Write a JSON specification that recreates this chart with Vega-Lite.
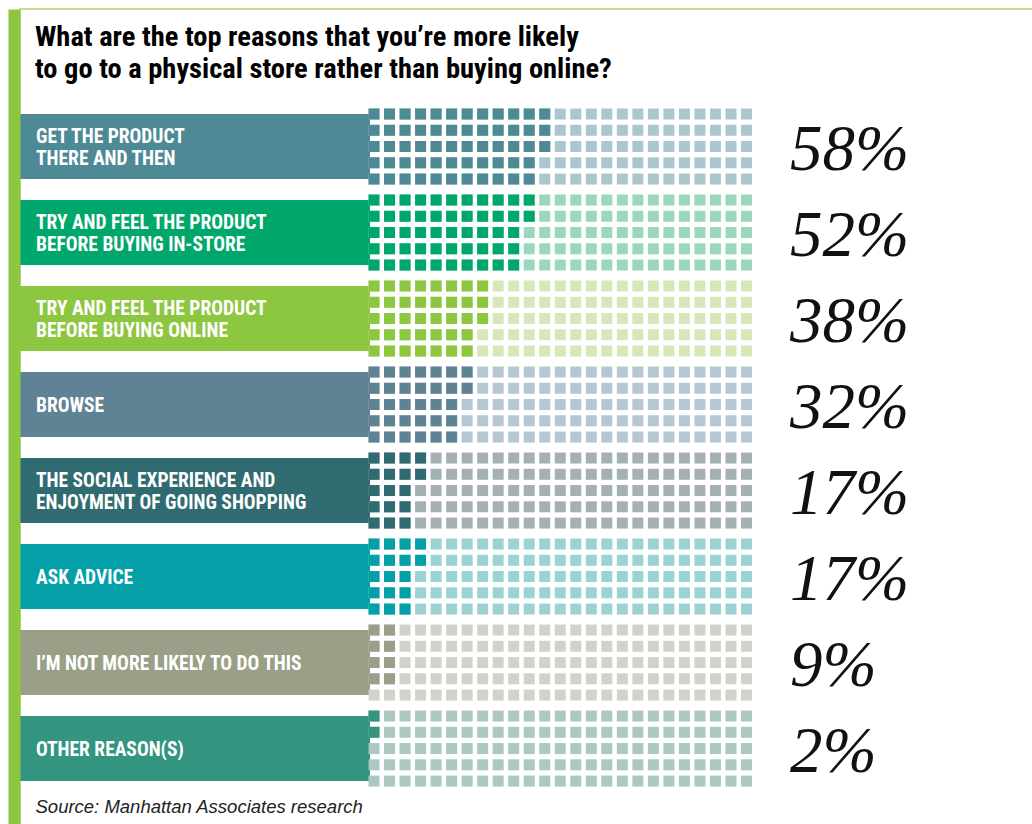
{
  "$schema": "https://vega.github.io/schema/vega-lite/v6.json",
  "width": 1013,
  "height": 816,
  "autosize": {"type": "none"},
  "padding": {"left": 20, "top": 9, "right": 0, "bottom": 0},
  "background": "white",
  "config": {
    "view": {"stroke": "#c3df97", "strokeWidth": 2},
    "text": {"lineBreak": "\n"}
  },
  "title": {
    "text": ["What are the top reasons that you’re more likely", "to go to a physical store rather than buying online?"],
    "anchor": "start",
    "frame": "group",
    "dx": 15,
    "offset": -74,
    "zindex": 2,
    "font": "'Liberation Sans Narrow', 'Roboto Condensed', 'DejaVu Sans Condensed', Roboto, sans-serif",
    "fontSize": 28.5,
    "fontWeight": "bold",
    "lineHeight": 32,
    "color": "#000000"
  },
  "datasets": {
    "cats": [
      {"id": 1, "label": "GET THE PRODUCT\nTHERE AND THEN", "pct": 0.58, "gy": [1,2,3,4,5], "n": [12,12,12,11,11], "c": [1,2,3,4,5,6,7,8,9,10,11,12,13,14,15,16,17,18,19,20,21,22,23,24,25]},
      {"id": 2, "label": "TRY AND FEEL THE PRODUCT\nBEFORE BUYING IN-STORE", "pct": 0.52, "gy": [1,2,3,4,5], "n": [11,11,10,10,10], "c": [1,2,3,4,5,6,7,8,9,10,11,12,13,14,15,16,17,18,19,20,21,22,23,24,25]},
      {"id": 3, "label": "TRY AND FEEL THE PRODUCT\nBEFORE BUYING ONLINE", "pct": 0.38, "gy": [1,2,3,4,5], "n": [8,8,8,7,7], "c": [1,2,3,4,5,6,7,8,9,10,11,12,13,14,15,16,17,18,19,20,21,22,23,24,25]},
      {"id": 4, "label": "BROWSE", "pct": 0.32, "gy": [1,2,3,4,5], "n": [7,7,6,6,6], "c": [1,2,3,4,5,6,7,8,9,10,11,12,13,14,15,16,17,18,19,20,21,22,23,24,25]},
      {"id": 5, "label": "THE SOCIAL EXPERIENCE AND\nENJOYMENT OF GOING SHOPPING", "pct": 0.17, "gy": [1,2,3,4,5], "n": [4,4,3,3,3], "c": [1,2,3,4,5,6,7,8,9,10,11,12,13,14,15,16,17,18,19,20,21,22,23,24,25]},
      {"id": 6, "label": "ASK ADVICE", "pct": 0.17, "gy": [1,2,3,4,5], "n": [4,4,3,3,3], "c": [1,2,3,4,5,6,7,8,9,10,11,12,13,14,15,16,17,18,19,20,21,22,23,24,25]},
      {"id": 7, "label": "I’M NOT MORE LIKELY TO DO THIS", "pct": 0.09, "gy": [1,2,3,4,5], "n": [2,2,2,2,0], "c": [1,2,3,4,5,6,7,8,9,10,11,12,13,14,15,16,17,18,19,20,21,22,23,24,25]},
      {"id": 8, "label": "OTHER REASON(S)", "pct": 0.02, "gy": [1,2,3,4,5], "n": [1,1,0,0,0], "c": [1,2,3,4,5,6,7,8,9,10,11,12,13,14,15,16,17,18,19,20,21,22,23,24,25]}
    ]
  },
  "data": {"name": "cats"},
  "layer": [
    {
      "mark": {"type": "rect"},
      "encoding": {
        "y": {
          "field": "id",
          "type": "ordinal",
          "scale": {"type": "band", "domain": [1,2,3,4,5,6,7,8], "paddingInner": 0.244, "paddingOuter": 0.866, "align": 0.705},
          "axis": {
            "labels": false,
            "ticks": false,
            "title": null,
            "grid": false,
            "domain": true,
            "domainColor": "#8dc63f",
            "domainWidth": 12,
            "offset": 6
          }
        },
        "x": {
          "datum": -21.81,
          "type": "quantitative",
          "scale": {"domain": [-21.81, 43.46], "nice": false, "zero": false},
          "axis": {
            "labels": false,
            "ticks": false,
            "domain": false,
            "grid": false,
            "title": "Source: Manhattan Associates research",
            "titleX": 15,
            "titleY": -13,
            "titleAlign": "left",
            "titleAnchor": "start",
            "titleBaseline": "alphabetic",
            "titleFont": "'Liberation Sans', Arial, sans-serif",
            "titleFontStyle": "italic",
            "titleFontWeight": "normal",
            "titleFontSize": 18.5,
            "titleColor": "#222222"
          }
        },
        "x2": {"datum": 0.74},
        "color": {
          "field": "id",
          "type": "nominal",
          "legend": null,
          "scale": {"range": ["#4d8a96", "#00a76b", "#8dc63f", "#5f8294", "#2f6b70", "#03a0a7", "#9aa088", "#339480"]}
        }
      }
    },
    {
      "transform": [{"filter": "indexof(datum.label, '\\n') < 0"}],
      "mark": {
        "type": "text",
        "align": "left",
        "baseline": "middle",
        "font": "'Liberation Sans Narrow', 'Roboto Condensed', 'DejaVu Sans Condensed', Roboto, sans-serif",
        "fontWeight": "bold",
        "fontSize": 19.5,
        "lineHeight": 22,
        "dy": 1,
        "color": "#ffffff"
      },
      "encoding": {
        "y": {
          "field": "id",
          "type": "ordinal",
          "scale": {"type": "band", "domain": [1,2,3,4,5,6,7,8], "paddingInner": 0.244, "paddingOuter": 0.866, "align": 0.705},
          "axis": null
        },
        "x": {"datum": -20.78, "type": "quantitative"},
        "text": {"field": "label", "type": "nominal"}
      }
    },
    {
      "transform": [{"filter": "indexof(datum.label, '\\n') >= 0"}],
      "mark": {
        "type": "text",
        "align": "left",
        "baseline": "middle",
        "font": "'Liberation Sans Narrow', 'Roboto Condensed', 'DejaVu Sans Condensed', Roboto, sans-serif",
        "fontWeight": "bold",
        "fontSize": 19.5,
        "lineHeight": 22,
        "dy": -10,
        "color": "#ffffff"
      },
      "encoding": {
        "y": {
          "field": "id",
          "type": "ordinal",
          "scale": {"type": "band", "domain": [1,2,3,4,5,6,7,8], "paddingInner": 0.244, "paddingOuter": 0.866, "align": 0.705},
          "axis": null
        },
        "x": {"datum": -20.78, "type": "quantitative"},
        "text": {"field": "label", "type": "nominal"}
      }
    },
    {
      "mark": {
        "type": "text",
        "align": "left",
        "baseline": "middle",
        "font": "'Liberation Serif', 'DejaVu Serif', serif",
        "fontStyle": "italic",
        "fontWeight": "normal",
        "fontSize": 65,
        "dy": 3,
        "color": "#111111"
      },
      "encoding": {
        "y": {
          "field": "id",
          "type": "ordinal",
          "scale": {"type": "band", "domain": [1,2,3,4,5,6,7,8], "paddingInner": 0.244, "paddingOuter": 0.866, "align": 0.705},
          "axis": null
        },
        "x": {"datum": 27.8, "type": "quantitative"},
        "text": {"field": "pct", "type": "quantitative", "format": ".0%"}
      }
    },
    {
      "transform": [{"flatten": ["gy", "n"]}, {"flatten": ["c"]}],
      "encoding": {
        "y": {
          "field": "id",
          "type": "ordinal",
          "scale": {"type": "band", "domain": [1,2,3,4,5,6,7,8], "paddingInner": 0.244, "paddingOuter": 0.866, "align": 0.705},
          "axis": null
        },
        "yOffset": {"field": "gy", "type": "ordinal", "scale": {"domain": [1,2,3,4,5], "paddingInner": 0.179, "paddingOuter": 0}},
        "x": {"field": "c", "type": "quantitative"}
      },
      "layer": [
        {
          "mark": {"type": "point", "shape": "square", "filled": true, "size": 121, "opacity": 1, "strokeWidth": 0},
          "encoding": {
            "color": {
              "field": "id",
              "type": "nominal",
              "legend": null,
              "scale": {"domain": [1,2,3,4,5,6,7,8], "range": ["#abc7cd", "#9cd6bc", "#d6e8b8", "#b3c8d2", "#a3b1b5", "#9ad2d5", "#d1d3ca", "#adc8c2"]}
            }
          }
        },
        {
          "transform": [{"filter": "datum.c <= datum.n"}],
          "mark": {"type": "point", "shape": "square", "filled": true, "size": 121, "opacity": 1, "strokeWidth": 0},
          "encoding": {
            "color": {
              "field": "id",
              "type": "nominal",
              "legend": null,
              "scale": {"domain": [1,2,3,4,5,6,7,8], "range": ["#4d8a96", "#00a76b", "#8dc63f", "#5f8294", "#2f6b70", "#03a0a7", "#9aa088", "#339480"]}
            }
          }
        }
      ],
      "resolve": {"scale": {"color": "independent"}}
    }
  ],
  "resolve": {"scale": {"y": "independent", "yOffset": "independent", "color": "independent"}, "axis": {"y": "independent"}}
}
